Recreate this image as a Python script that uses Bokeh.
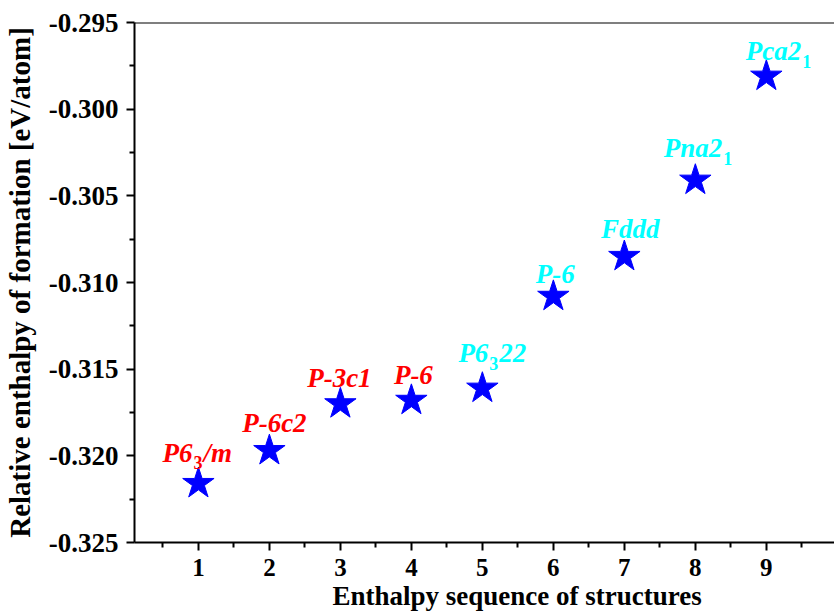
from bokeh.plotting import figure
from bokeh.models import ColumnDataSource, FixedTicker, NumeralTickFormatter, Span, Title, Range1d
from bokeh.core.properties import value
from bokeh.embed import file_html
from bokeh.resources import INLINE

# ---- data ----
structures = [1, 2, 3, 4, 5, 6, 7, 8, 9]
enthalpy = [-0.3216, -0.3197, -0.3170, -0.3168, -0.3161, -0.3108, -0.3085, -0.3041, -0.2981]
label_main = ["P6", "P-6c2", "P-3c1", "P-6", "P6", "P-6", "Fddd", "Pna2", "Pca2"]
label_sub = ["3", "", "", "", "3", "", "", "1", "1"]
label_tail = ["/m", "", "", "", "22", "", "", "", ""]
label_group = ["red", "red", "red", "red", "cyan", "cyan", "cyan", "cyan", "cyan"]
x_ticks = [1, 2, 3, 4, 5, 6, 7, 8, 9]
x_minor = [0.5, 1.5, 2.5, 3.5, 4.5, 5.5, 6.5, 7.5, 8.5, 9.5]
y_ticks = [-0.325, -0.320, -0.315, -0.310, -0.305, -0.300, -0.295]
y_minor = [-0.3225, -0.3175, -0.3125, -0.3075, -0.3025, -0.2975]
x_title = "Enthalpy sequence of  structures"
y_title = "Relative enthalpy of formation [eV/atom]"

# ---- layout / style ----
FONT = "Liberation Serif"
colors = {"red": "#FF0000", "cyan": "#00FFFF"}
# per-label pixel offsets (horizontal anchor, vertical baseline offset)
anchor_dx = [-6, 5, -1, 2, 6, 2, 6, 27, 35]
base_dy = [-31, -28, -26, -25, -35, -22, -28, -32, -25]

p = figure(width=834, height=612, output_backend="svg", toolbar_location=None,
           x_range=Range1d(0.1, 9.96), y_range=Range1d(-0.325, -0.295),
           min_border_left=134, min_border_right=0, min_border_top=22, min_border_bottom=70)
p.outline_line_color = None
p.xgrid.visible = False
p.ygrid.visible = False
p.background_fill_color = "white"
p.border_fill_color = "white"

p.add_layout(Span(location=-0.295, dimension="width", line_color="black", line_width=2))

for ax in (p.xaxis[0], p.yaxis[0]):
    ax.axis_line_width = 2
    ax.axis_line_color = "black"
    ax.major_tick_line_width = 2
    ax.minor_tick_line_width = 2
    ax.major_tick_in = 0
    ax.major_tick_out = 8
    ax.minor_tick_in = 0
    ax.minor_tick_out = 5
    ax.major_label_text_font = FONT
    ax.major_label_text_font_style = "bold"
    ax.major_label_text_color = "black"

p.xaxis.ticker = FixedTicker(ticks=x_ticks, minor_ticks=x_minor)
p.yaxis.ticker = FixedTicker(ticks=y_ticks, minor_ticks=y_minor)
p.yaxis.formatter = NumeralTickFormatter(format="0.000")
p.xaxis.major_label_text_font_size = "25px"
p.yaxis.major_label_text_font_size = "27px"
p.xaxis.major_label_standoff = 8
p.yaxis.major_label_standoff = 8

p.yaxis.axis_label = y_title
p.yaxis.axis_label_text_font = FONT
p.yaxis.axis_label_text_font_style = "bold"
p.yaxis.axis_label_text_font_size = "29px"
p.yaxis.axis_label_text_color = "black"
p.yaxis.axis_label_standoff = 10

p.add_layout(Title(text=x_title, align="left", offset=198, standoff=0,
                   text_font=FONT, text_font_style="bold", text_font_size="27px",
                   text_color="black"), "below")

src = ColumnDataSource(dict(x=structures, y=enthalpy))
p.scatter("x", "y", source=src, marker="star", size=33, fill_color="#0000FF",
          line_color="#0000FF")

# labels
main_c, sub_c, tail_c = [], [], []
for i in range(len(structures)):
    col = colors[label_group[i]]
    if label_sub[i]:
        main_c.append(dict(x=structures[i], y=enthalpy[i], t=label_main[i], c=col,
                           dx=anchor_dx[i], dy=base_dy[i], align="right"))
        sub_c.append(dict(x=structures[i], y=enthalpy[i], t=label_sub[i], c=col,
                          dx=anchor_dx[i] + 1, dy=base_dy[i] + 10))
        if label_tail[i]:
            tail_c.append(dict(x=structures[i], y=enthalpy[i], t=label_tail[i], c=col,
                               dx=anchor_dx[i] + 11, dy=base_dy[i]))
    else:
        main_c.append(dict(x=structures[i], y=enthalpy[i], t=label_main[i], c=col,
                           dx=anchor_dx[i], dy=base_dy[i], align="center"))


def to_src(rows, keys):
    return ColumnDataSource({k: [r[k] for r in rows] for k in keys})


ms = to_src(main_c, ["x", "y", "t", "c", "dx", "dy", "align"])
p.text("x", "y", text="t", source=ms, text_color="c", x_offset="dx", y_offset="dy",
       text_align="align", text_baseline="alphabetic", text_font=value(FONT),
       text_font_style="bold italic", text_font_size="27px")
ss = to_src(sub_c, ["x", "y", "t", "c", "dx", "dy"])
p.text("x", "y", text="t", source=ss, text_color="c", x_offset="dx", y_offset="dy",
       text_align="left", text_baseline="alphabetic", text_font=value(FONT),
       text_font_style="bold", text_font_size="18px")
ts = to_src(tail_c, ["x", "y", "t", "c", "dx", "dy"])
p.text("x", "y", text="t", source=ts, text_color="c", x_offset="dx", y_offset="dy",
       text_align="left", text_baseline="alphabetic", text_font=value(FONT),
       text_font_style="bold italic", text_font_size="27px")

open("out.html", "w").write(file_html(p, INLINE))
